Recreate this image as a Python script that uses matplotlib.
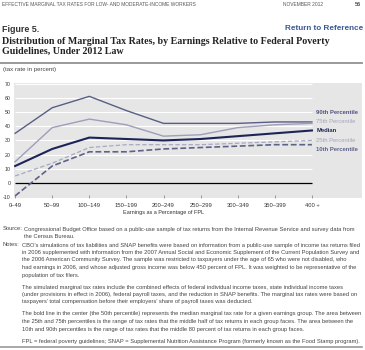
import matplotlib
matplotlib.use("Agg")
import matplotlib.pyplot as plt

# data (tax rate in percent)
categories = ["0\u201349", "50\u201399", "100\u2013149", "150\u2013199", "200\u2013249",
              "250\u2013299", "300\u2013349", "350\u2013399", "400 +"]
p90 = [35, 53, 61, 51, 42, 42, 42, 43, 43]
p75 = [15, 39, 45, 41, 33, 34, 39, 41, 42]
median = [12, 24, 32, 31, 30, 31, 33, 35, 37]
p25 = [5, 14, 25, 27, 27, 27, 28, 29, 30]
p10 = [-9, 12, 22, 22, 24, 25, 26, 27, 27]
yticks = [70, 60, 50, 40, 30, 20, 10, 0, -10]

W, H = 365, 350
fig = plt.figure(figsize=(W / 100, H / 100), dpi=100)

def px(x, y):
    return x / W, 1 - y / H

def ftext(x, y, s, **kw):
    fx, fy = px(x, y)
    kw.setdefault("va", "center")
    kw.setdefault("family", "Liberation Sans")
    fig.text(fx, fy, s, **kw)

# header
ftext(2, 5, "EFFECTIVE MARGINAL TAX RATES FOR LOW- AND MODERATE-INCOME WORKERS",
      size=3.5, color="#555555")
ftext(283, 5, "NOVEMBER 2012", size=3.5, color="#555555")
ftext(361, 5, "56", size=4.0, color="#555555", weight="bold", ha="right")

ftext(2, 29, "Figure 5.", size=6.4, weight="bold", color="#333333")
ftext(363, 29, "Return to Reference", size=5.9, weight="bold", color="#3b5a94", ha="right")
ftext(2, 41, "Distribution of Marginal Tax Rates, by Earnings Relative to Federal Poverty",
      size=7.2, weight="bold", family="Liberation Serif", color="#222222")
ftext(2, 51, "Guidelines, Under 2012 Law",
      size=7.2, weight="bold", family="Liberation Serif", color="#222222")
fig.add_artist(plt.Line2D([0.3 / W, 362 / W], [1 - 63 / H] * 2, color="#9a9a9a", lw=1.4))

ftext(3, 70, "(tax rate in percent)", size=4.4, color="#444444")

# chart axes
l, r, t, b = 14, 362, 83, 198
ax = fig.add_axes([l / W, 1 - b / H, (r - l) / W, (b - t) / H])
ax.set_facecolor("#e6e6e6")
for s in ax.spines.values():
    s.set_visible(False)
x = list(range(len(categories)))
ax.set_xlim(-0.03, 9.35)
ax.set_ylim(-10.5, 70.4)
ax.hlines([10, 20, 30, 40, 50, 60, 70], 0, 8, color="white", lw=0.8, zorder=1)
ax.hlines([0], 0, 8, color="black", lw=0.9, zorder=2)

ax.plot(x, p90, color="#595e86", lw=1.0, zorder=3)
ax.plot(x, p75, color="#9d9eb9", lw=1.0, zorder=3)
ax.plot(x, median, color="#1c2457", lw=1.5, zorder=4)
ax.plot(x, p25, color="#a7a9c0", lw=0.9, dashes=(3.5, 1.8), zorder=3)
ax.plot(x, p10, color="#5d6287", lw=1.2, dashes=(3.5, 1.6), zorder=3)

ax.set_yticks(yticks)
ax.set_yticklabels([str(v) for v in yticks], size=3.8, color="#333333", family="Liberation Sans")
ax.tick_params(axis="y", length=0, pad=2.5)
ax.set_xticks(x)
ax.set_xticklabels(categories, size=4.2, color="#333333", family="Liberation Sans")
ax.tick_params(axis="x", direction="in", length=2, width=0.5, color="#777777", pad=3.5)
ax.text(4, -20.5, "Earnings as a Percentage of FPL", size=4.0, color="#333333",
        ha="center", va="center", family="Liberation Sans")

legend_items = [("90th Percentile", 49.6, "#4e5382", "bold"),
                ("75th Percentile", 43.3, "#a3a4bd", "normal"),
                ("Median", 37.0, "#1c2457", "bold"),
                ("25th Percentile", 30.0, "#a3a4bd", "normal"),
                ("10th Percentile", 23.7, "#5d6287", "bold")]
for name, yv, c, w in legend_items:
    ax.text(8.12, yv, name, size=4.2, color=c, weight=w, va="center",
            family="Liberation Sans")

# source and notes
fs = 4.15
col = "#444444"
ftext(3, 229, "Source:", size=fs, color=col)
ftext(24, 229, "Congressional Budget Office based on a public-use sample of tax returns from the "
      "Internal Revenue Service and survey data from", size=fs, color=col)
ftext(24, 236.5, "the Census Bureau.", size=fs, color=col)
ftext(3, 245, "Notes:", size=fs, color=col)
notes = [
    [("CBO\u2019s simulations of tax liabilities and SNAP benefits were based on information "
      "from a public-use sample of income tax returns filed"),
     ("in 2006 supplemented with information from the 2007 Annual Social and Economic "
      "Supplement of the Current Population Survey and"),
     ("the 2006 American Community Survey. The sample was restricted to taxpayers under the "
      "age of 65 who were not disabled, who"),
     ("had earnings in 2006, and whose adjusted gross income was below 450 percent of FPL. "
      "It was weighted to be representative of the"),
     "population of tax filers."],
    [("The simulated marginal tax rates include the combined effects of federal individual "
      "income taxes, state individual income taxes"),
     ("(under provisions in effect in 2006), federal payroll taxes, and the reduction in SNAP "
      "benefits. The marginal tax rates were based on"),
     ("taxpayers\u2019 total compensation before their employers\u2019 share of payroll taxes "
      "was deducted.")],
    [("The bold line in the center (the 50th percentile) represents the median marginal tax "
      "rate for a given earnings group. The area between"),
     ("the 25th and 75th percentiles is the range of tax rates that the middle half of tax "
      "returns in each group faces. The area between the"),
     ("10th and 90th percentiles is the range of tax rates that the middle 80 percent of tax "
      "returns in each group faces.")],
    [("FPL = federal poverty guidelines; SNAP = Supplemental Nutrition Assistance Program "
      "(formerly known as the Food Stamp program).")],
]
yy = 245
for para in notes:
    for line in para:
        ftext(22, yy, line, size=fs, color=col)
        yy += 7.5
    yy += 4.5
fig.add_artist(plt.Line2D([0.3 / W, 362 / W], [1 - 347 / H] * 2, color="#9a9a9a", lw=1.2))

fig.savefig("out.png", dpi=100)
